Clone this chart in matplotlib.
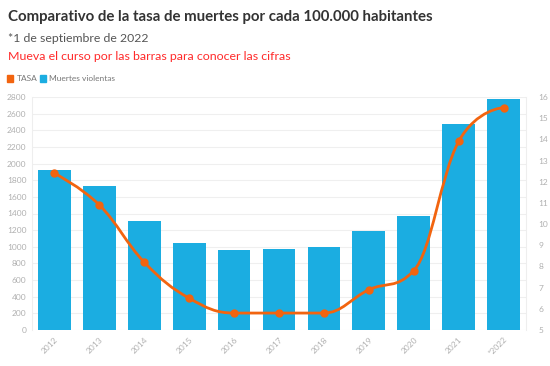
import matplotlib
matplotlib.use("Agg")
import matplotlib.pyplot as plt
from matplotlib.path import Path
from matplotlib.patches import PathPatch, Rectangle
import numpy as np

years = ["2012", "2013", "2014", "2015", "2016", "2017", "2018", "2019", "2020", "2021", "*2022"]
muertes = [1920, 1730, 1310, 1045, 960, 975, 995, 1190, 1370, 2470, 2780]
tasa = [12.4, 10.9, 8.2, 6.5, 5.8, 5.8, 5.8, 6.9, 7.8, 13.9, 15.5]

title = "Comparativo de la tasa de muertes por cada 100.000 habitantes"
subtitle = "*1 de septiembre de 2022"
note = "Mueva el curso por las barras para conocer las cifras"

BAR = "#1badE1"
LINE = "#f2640f"
TICK = "#b0b0b0"

plt.rcParams['font.family'] = ['Lato', 'DejaVu Sans']

fig = plt.figure(figsize=(5.5, 3.66), dpi=100)
ax = fig.add_axes([32/550, 1-330/366, 494/550, 233/366])
ax2 = ax.twinx()

x = np.arange(len(years))
ax.bar(x, muertes, width=0.73, color=BAR, zorder=2)
ax.set_xlim(-0.5, len(years)-0.5)
ax.set_ylim(0, 2800)
ax.set_yticks(np.arange(0, 2801, 200))
ax.set_xticks(x)
ax.set_xticklabels(years, rotation=45, ha="right", rotation_mode="anchor")
ax.grid(axis="y", color="#efefef", lw=0.8, zorder=0)
ax.set_axisbelow(True)

# Highcharts-like spline
def spline_path(xs, ys, smoothing=1.5):
    denom = smoothing + 1
    n = len(xs)
    lc = [None]*n
    rc = [None]*n
    for i in range(n):
        px, py = xs[i], ys[i]
        if 0 < i < n-1:
            lx, ly = xs[i-1], ys[i-1]
            nx, ny = xs[i+1], ys[i+1]
            lcx = (smoothing*px + lx)/denom
            lcy = (smoothing*py + ly)/denom
            rcx = (smoothing*px + nx)/denom
            rcy = (smoothing*py + ny)/denom
            if rcx != lcx:
                corr = ((rcy - lcy)*(rcx - px))/(rcx - lcx) + py - rcy
                lcy += corr
                rcy += corr
            if lcy > ly and lcy > py:
                lcy = max(ly, py); rcy = 2*py - lcy
            elif lcy < ly and lcy < py:
                lcy = min(ly, py); rcy = 2*py - lcy
            if rcy > ny and rcy > py:
                rcy = max(ny, py); lcy = 2*py - rcy
            elif rcy < ny and rcy < py:
                rcy = min(ny, py); lcy = 2*py - rcy
            lc[i] = (lcx, lcy)
            rc[i] = (rcx, rcy)
        else:
            lc[i] = (px, py)
            rc[i] = (px, py)
    verts = [(xs[0], ys[0])]
    codes = [Path.MOVETO]
    for i in range(1, n):
        verts += [rc[i-1], lc[i], (xs[i], ys[i])]
        codes += [Path.CURVE4]*3
    return Path(verts, codes)

ax2.set_ylim(5, 16)
ax2.set_yticks(np.arange(5, 17, 1))
ax2.add_patch(PathPatch(spline_path(list(x), tasa), fill=False, edgecolor=LINE, lw=2, zorder=3))
ax2.plot(x, tasa, "o", color=LINE, ms=5, zorder=4)

for a in (ax, ax2):
    for s in a.spines.values():
        s.set_visible(False)
    a.tick_params(length=0, labelsize=6, labelcolor=TICK)
ax.tick_params(axis="x", pad=4)
ax.tick_params(axis="y", pad=4)
ax2.tick_params(axis="y", pad=9)
ax.plot([0, 0], [0, 1], transform=ax.transAxes, color="#eeeeee", lw=0.8, clip_on=False)
ax.plot([1, 1], [0, 1], transform=ax.transAxes, color="#eeeeee", lw=0.8, clip_on=False)

fig.text(8/550, 1-17/366, title, fontsize=10.8, fontweight="bold", color="#333333", va="center")
fig.text(8/550, 1-38/366, subtitle, fontsize=8.8, color="#555555", va="center")
fig.text(8/550, 1-57/366, note, fontsize=8.9, color="#ff2a2a", va="center")

# legend
fig.patches.append(Rectangle((7/550, 1-82/366), 6/550, 7/366, transform=fig.transFigure,
                             color=LINE, figure=fig))
fig.text(17/550, 1-78.5/366, "TASA", fontsize=6, color="#777777", va="center")
fig.patches.append(Rectangle((40/550, 1-82/366), 6/550, 7/366, transform=fig.transFigure,
                             color=BAR, figure=fig))
fig.text(49/550, 1-78.5/366, "Muertes violentas", fontsize=6, color="#777777", va="center")

fig.savefig("out.png", dpi=100, facecolor="white")
